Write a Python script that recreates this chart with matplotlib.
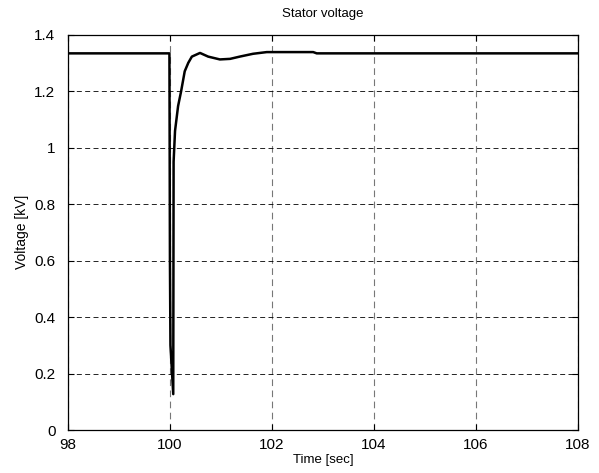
import numpy as np
import matplotlib.pyplot as plt

plt.rcParams['font.family'] = ['Liberation Sans', 'DejaVu Sans']

# stator voltage trace (time in s, voltage in kV)
t = [98.0, 99.99, 100.0, 100.01, 100.065, 100.072, 100.10, 100.16, 100.22,
     100.29, 100.36, 100.43, 100.59, 100.75, 100.98, 101.18, 101.37,
     101.63, 101.9, 102.3, 102.81, 102.88, 105.0, 108.0]
v = [1.3335, 1.3335, 0.6, 0.30, 0.127, 0.95, 1.059, 1.147, 1.2,
     1.27, 1.30, 1.322, 1.335, 1.322, 1.312, 1.314, 1.322,
     1.332, 1.338, 1.338, 1.338, 1.3335, 1.3335, 1.3335]

xticks = [98, 100, 102, 104, 106, 108]
yticks = [0, 0.2, 0.4, 0.6, 0.8, 1, 1.2, 1.4]
yticklabels = ['0', '0.2', '0.4', '0.6', '0.8', '1', '1.2', '1.4']

fig = plt.figure(figsize=(5.99, 4.73), dpi=100)
ax = fig.add_axes([0.1135, 0.0909, 0.851, 0.836])

ax.plot(t, v, color='black', linewidth=1.8)

ax.set_xlim(98, 108)
ax.set_ylim(0, 1.4)
ax.set_xticks(xticks)
ax.set_yticks(yticks)
ax.set_yticklabels(yticklabels)
ax.tick_params(direction='in', labelsize=11, length=4, width=0.8)
ax.tick_params(top=True, right=True)
ax.tick_params(axis='y', pad=9)
ax.tick_params(axis='x', pad=6)
ax.yaxis.grid(True, color='black', linestyle=(0, (6, 4)), linewidth=0.6)
ax.xaxis.grid(True, color='#777777', linestyle=(0, (6, 4)), linewidth=0.8)
for s in ax.spines.values():
    s.set_linewidth(0.9)

ax.set_title('Stator voltage', fontsize=9.5, pad=13)
ax.set_xlabel('Time [sec]', fontsize=9.5, labelpad=1)
ax.set_ylabel('Voltage [kV]', fontsize=10, labelpad=4)

plt.savefig('out.png', dpi=100)
